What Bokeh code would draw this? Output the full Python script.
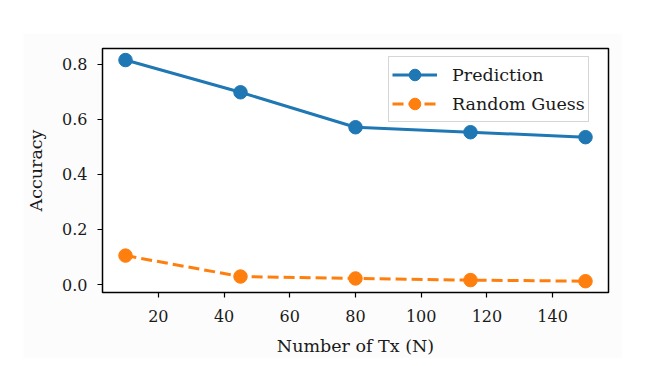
from bokeh.plotting import figure
from bokeh.models import Range1d, FixedTicker, Legend, LegendItem, CustomJSTickFormatter
from bokeh.embed import file_html
from bokeh.resources import INLINE

num_tx = [10, 45, 80, 115, 150]
prediction = [0.815, 0.698, 0.571, 0.553, 0.535]
random_guess = [0.105, 0.029, 0.022, 0.016, 0.012]
x_ticks = [20, 40, 60, 80, 100, 120, 140]
y_ticks = [0.0, 0.2, 0.4, 0.6, 0.8]

FONT = "DejaVu Serif"
TICK_FS = "16px"
LABEL_FS = "17.5px"
BLUE = "#1f77b4"
ORANGE = "#ff7f0e"
TXT = "#1a1a1a"

p = figure(width=599, height=325, output_backend="svg", toolbar_location=None,
           x_range=Range1d(3, 157), y_range=Range1d(-0.029, 0.857),
           min_border_left=79, min_border_right=14, min_border_top=15, min_border_bottom=66,
           background_fill_color="white", border_fill_color="#fcfcfc",
           margin=(33, 0, 0, 23))

p.outline_line_color = "black"
p.outline_line_width = 1.5
p.xgrid.visible = False
p.ygrid.visible = False

for ax in (p.xaxis[0], p.yaxis[0]):
    ax.axis_line_color = None
    ax.major_tick_line_color = "black"
    ax.major_tick_line_width = 1.2
    ax.major_tick_out = 5
    ax.major_tick_in = 0
    ax.minor_tick_line_color = None
    ax.major_label_text_font = FONT
    ax.major_label_text_font_size = TICK_FS
    ax.major_label_text_color = TXT
    ax.axis_label_text_font = FONT
    ax.axis_label_text_font_size = LABEL_FS
    ax.axis_label_text_font_style = "normal"
    ax.axis_label_text_color = TXT

p.xaxis.ticker = FixedTicker(ticks=x_ticks)
p.yaxis.ticker = FixedTicker(ticks=y_ticks)
p.yaxis.formatter = CustomJSTickFormatter(code="return tick.toFixed(1);")
p.xaxis.axis_label = "Number of Tx (N)"
p.yaxis.axis_label = "Accuracy"
p.xaxis.major_label_standoff = 12
p.yaxis.major_label_standoff = 10
p.xaxis.axis_label_standoff = 11
p.yaxis.axis_label_standoff = 13

l1 = p.line(num_tx, prediction, line_color=BLUE, line_width=3)
s1 = p.scatter(num_tx, prediction, size=13.5, fill_color=BLUE, line_color=BLUE)
l2 = p.line(num_tx, random_guess, line_color=ORANGE, line_width=3, line_dash="11 5")
s2 = p.scatter(num_tx, random_guess, size=13.5, fill_color=ORANGE, line_color=ORANGE)

legend = Legend(items=[LegendItem(label="Prediction", renderers=[l1, s1]),
                       LegendItem(label="Random Guess", renderers=[l2, s2])],
                location=(286, 170), margin=0, padding=3, spacing=0,
                glyph_width=45, glyph_height=29, label_height=29,
                label_standoff=15,
                label_text_font=FONT, label_text_font_size=LABEL_FS,
                label_text_color=TXT,
                border_line_color="#d6d6d6", border_line_width=1.5,
                border_line_alpha=1.0,
                background_fill_alpha=0.8)
p.add_layout(legend)

open("out.html", "w").write(file_html(p, INLINE))
